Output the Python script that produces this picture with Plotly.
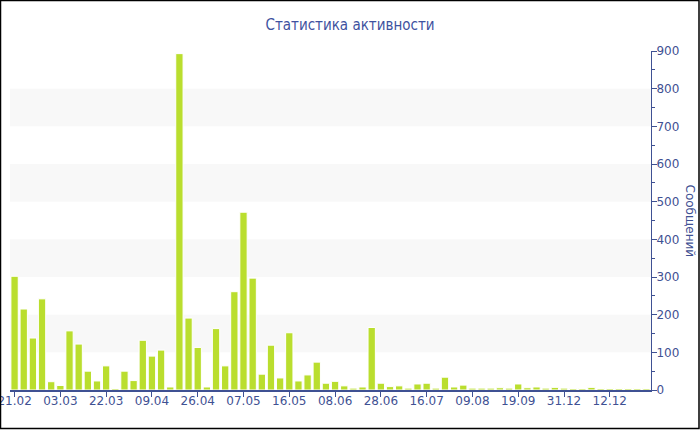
import plotly.graph_objects as go

# ---- data ----
values = [302, 215, 138, 242, 22, 12, 157, 122, 50, 24,
          64, 4, 50, 25, 132, 90, 106, 8, 893, 191,
          113, 8, 163, 64, 261, 472, 297, 42, 119, 32,
          152, 24, 40, 74, 18, 23, 11, 5, 8, 166,
          18, 9, 11, 5, 16, 18, 5, 34, 8, 13,
          5, 5, 5, 6, 5, 16, 6, 8, 5, 7,
          5, 4, 4, 7, 4, 4, 4, 4, 4, 4]
tick_labels = ["21.02", "03.03", "22.03", "09.04", "26.04", "07.05", "16.05",
               "08.06", "28.06", "16.07", "09.08", "19.09", "31.12", "12.12"]
label_step = 5
title_text = "Статистика активности"
y_title = "Сообщений"

# ---- layout constants ----
W, H = 700, 430
ML, MR, MT, MB = 10, 49, 51, 40
navy = "#3f5193"
bar_color = "#bade2e"

idx = list(range(len(values)))
tickvals = [i * label_step for i in range(len(tick_labels))]

fig = go.Figure()
fig.add_trace(go.Bar(
    x=idx, y=values,
    marker=dict(color=bar_color, line=dict(color="white", width=1)),
    hoverinfo="y",
))

pw = W - ML - MR
ph = H - MT - MB


def px_x(p):
    return (p - ML) / pw


def px_y(p):
    return (H - MB - p) / ph


shapes = []
for lo in (100, 300, 500, 700):
    shapes.append(dict(type="rect", xref="paper", yref="y", x0=0, x1=1,
                       y0=lo, y1=lo + 100, fillcolor="#f8f8f8",
                       line=dict(width=0), layer="below"))
shapes.append(dict(type="rect", xref="paper", yref="paper",
                   x0=px_x(0.5), x1=px_x(699), y0=px_y(428.5), y1=px_y(0.5),
                   line=dict(color="black", width=1.5), layer="above"))

fig.update_layout(
    width=W, height=H,
    margin=dict(l=ML, r=MR, t=MT, b=MB, autoexpand=False),
    paper_bgcolor="white", plot_bgcolor="white",
    font=dict(family="DejaVu Sans", color=navy, size=12),
    title=dict(text=title_text, x=0.5, xref="container", xanchor="center",
               y=1 - 25 / H, yref="container", yanchor="middle",
               font=dict(size=15, color="#3e52a0", family="DejaVu Sans Condensed")),
    bargap=0.2,
    showlegend=False,
    shapes=shapes,
    xaxis=dict(range=[-0.5, len(values) - 0.5], tickmode="array",
               tickvals=tickvals, ticktext=tick_labels,
               showgrid=False, zeroline=False, automargin=False,
               showline=True, linecolor=navy, linewidth=1.5,
               ticks="outside", ticklen=5, tickcolor=navy,
               ticklabeloverflow="allow", ticklabelstandoff=-6,
               tickfont=dict(size=12, color=navy)),
    yaxis=dict(side="right", range=[0, 900], dtick=100,
               showgrid=False, zeroline=False, automargin=False,
               showline=True, linecolor=navy, linewidth=1,
               ticks="outside", ticklen=5, tickcolor=navy,
               ticklabelstandoff=-3,
               tickfont=dict(size=12, color=navy),
               minor=dict(dtick=50, ticks="outside", ticklen=3, tickcolor=navy)),
    annotations=[dict(text=y_title, xref="paper", yref="paper",
                      x=px_x(690), y=0.5, textangle=90, showarrow=False,
                      xanchor="center", yanchor="middle",
                      font=dict(size=12, color=navy))],
)

fig.write_html("out.html", config={"displayModeBar": False},
               post_script="document.body.style.margin='0';document.body.style.overflow='hidden';")
